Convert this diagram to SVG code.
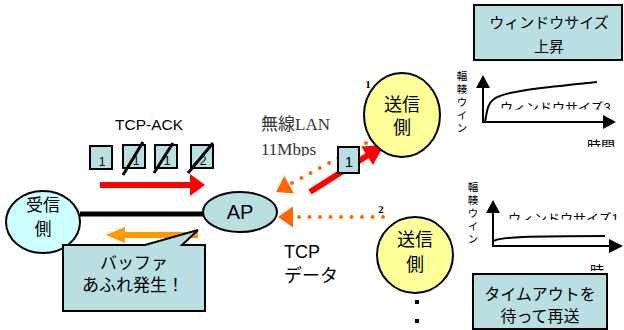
<svg xmlns="http://www.w3.org/2000/svg" width="624" height="330" viewBox="0 0 624 330">
<style>
.jp{font-family:'Liberation Sans','Noto Sans CJK JP',sans-serif;fill:#000}
.sf{font-family:'Liberation Serif','Noto Sans CJK JP',serif;fill:#333}
.box{fill:#b9dfe3;stroke:#000;stroke-width:2}
.pk{fill:#b9dfe3;stroke:#000;stroke-width:2}
.slash{stroke:#000;stroke-width:3}
.axis{stroke:#000;stroke-width:2;fill:none}
.dot{stroke:#ff6600;stroke-width:4;stroke-linecap:round;stroke-dasharray:0 10.5;fill:none}
.red{stroke:#ff0000;stroke-width:6;fill:none}
</style>
<defs>
<clipPath id="c1"><rect x="440" y="60" width="184" height="49.5"/></clipPath>
<clipPath id="c2"><rect x="440" y="130" width="184" height="17"/></clipPath>
<clipPath id="c3"><rect x="440" y="190" width="184" height="30"/></clipPath>
<clipPath id="c4"><rect x="580" y="250" width="25" height="21"/></clipPath>
<clipPath id="c5"><rect x="250" y="135" width="90" height="21"/></clipPath>
</defs>
<rect width="624" height="330" fill="#fff"/>

<g id="connectors">
  <line x1="80" y1="214" x2="205" y2="214" stroke="#000" stroke-width="5"/>
  <line class="red" x1="100" y1="185" x2="191" y2="185"/>
  <polygon points="190,174 205,185 190,196" fill="#ff0000"/>
  <line class="red" x1="310" y1="192" x2="369" y2="154.5"/>
  <polygon points="384,145 373,165 361.2,146.4" fill="#ff0000"/>
  <line class="dot" x1="366" y1="143" x2="292" y2="183"/>
  <polygon points="276,192 294,193.6 284.4,176" fill="#ff6600"/>
  <line class="dot" x1="383" y1="217" x2="295" y2="217"/>
  <polygon points="293,206.5 278,217 293,227.5" fill="#ff6600"/>
  <line x1="124" y1="235" x2="198" y2="235" stroke="#ff9900" stroke-width="6"/>
  <polygon points="125,227 106,235 125,243" fill="#ff9900"/>
</g>

<g id="receiver">
  <ellipse cx="43" cy="222" rx="37" ry="31" fill="#ccffff" stroke="#000" stroke-width="2"/>
  <text class="jp" x="43" y="211" font-size="17" text-anchor="middle">受信</text>
  <text class="jp" x="43" y="235" font-size="17" text-anchor="middle">側</text>
</g>

<g id="ap">
  <ellipse cx="240" cy="212" rx="37" ry="20" fill="#b9dfe3" stroke="#000" stroke-width="2"/>
  <text class="jp" x="240" y="219" font-size="20" text-anchor="middle">AP</text>
</g>

<g id="tcp-ack">
  <text class="jp" x="149" y="130" font-size="15.5" text-anchor="middle">TCP-ACK</text>
  <rect class="pk" x="90" y="146" width="22" height="23"/>
  <text class="jp" x="102" y="166" font-size="12" text-anchor="middle">1</text>
  <rect class="pk" x="123" y="145" width="22" height="23"/>
  <text class="jp" x="136" y="165" font-size="12" text-anchor="middle">1</text>
  <rect class="pk" x="155" y="145" width="22" height="23"/>
  <text class="jp" x="167" y="165" font-size="12" text-anchor="middle">1</text>
  <rect class="pk" x="191" y="145" width="22" height="23"/>
  <text class="jp" x="203" y="165" font-size="12" text-anchor="middle">2</text>
  <line class="slash" x1="123" y1="175" x2="143" y2="142"/>
  <line class="slash" x1="154" y1="173" x2="173" y2="143"/>
  <line class="slash" x1="188" y1="173" x2="213" y2="143"/>
</g>

<g id="balloon">
  <path d="M63,245 H145 L198,230 L182,245 H205 V311 H63 Z" fill="#b9dfe3" stroke="#000" stroke-width="2"/>
  <text class="jp" x="134" y="269" font-size="17" text-anchor="middle">バッファ</text>
  <text class="jp" x="133" y="291" font-size="17" text-anchor="middle">あふれ発生！</text>
</g>

<g id="wlan-label">
  <text class="sf" x="261" y="130" font-size="17">無線LAN</text>
  <text class="sf" x="261" y="155" font-size="17" clip-path="url(#c5)">11Mbps</text>
</g>

<g id="packet-1">
  <rect class="pk" x="338" y="147" width="21" height="26"/>
  <text class="jp" x="349" y="167" font-size="15" text-anchor="middle">1</text>
</g>

<g id="tcp-data-label">
  <text class="jp" x="284" y="258" font-size="18">TCP</text>
  <text class="jp" x="284" y="282" font-size="18">データ</text>
</g>

<g id="sender-1">
  <ellipse cx="402" cy="115" rx="38" ry="42" fill="#ffff99" stroke="#000" stroke-width="2"/>
  <text class="jp" x="402" y="111" font-size="18" text-anchor="middle">送信</text>
  <text class="jp" x="402" y="134" font-size="18" text-anchor="middle">側</text>
  <text x="368" y="88" font-family="'Liberation Serif',serif" font-weight="bold" font-size="11" text-anchor="middle">1</text>
</g>

<g id="sender-2">
  <ellipse cx="415" cy="255" rx="38" ry="38" fill="#ffff99" stroke="#000" stroke-width="2"/>
  <text class="jp" x="415" y="246" font-size="18" text-anchor="middle">送信</text>
  <text class="jp" x="415" y="271" font-size="18" text-anchor="middle">側</text>
  <text x="381" y="213" font-family="'Liberation Serif',serif" font-weight="bold" font-size="11" text-anchor="middle">2</text>
  <rect x="415" y="300" width="4" height="4" fill="#000"/>
  <rect x="415" y="319" width="4" height="4" fill="#000"/>
</g>

<g id="window-up-box">
  <rect class="box" x="474" y="5" width="148" height="55"/>
  <text class="jp" x="549" y="28" font-size="15" text-anchor="middle">ウィンドウサイズ</text>
  <text class="jp" x="549" y="52" font-size="15" text-anchor="middle">上昇</text>
</g>

<g id="graph-1">
  <line class="axis" x1="483" y1="123" x2="483" y2="86"/>
  <polygon points="476,88 483,75 490,88" fill="#000"/>
  <line class="axis" x1="483" y1="122" x2="604" y2="122"/>
  <polygon points="603,115 616,122 603,129" fill="#000"/>
  <path class="axis" d="M485,122 C487,112 487,104 494,99 C505,91 540,88 597,82"/>
  <text class="jp" x="500" y="112" font-size="13" clip-path="url(#c1)">ウィンドウサイズ3</text>
  <text class="jp" x="587" y="151" font-size="14" clip-path="url(#c2)">時間</text>
  <text class="jp" font-size="10.5" text-anchor="middle"><tspan x="462" y="80">輻</tspan><tspan x="462" y="93">輳</tspan><tspan x="462" y="106">ウ</tspan><tspan x="462" y="119">イ</tspan><tspan x="462" y="132">ン</tspan></text>
</g>

<g id="graph-2">
  <line class="axis" x1="493" y1="247" x2="493" y2="211"/>
  <polygon points="486,213 493,200 500,213" fill="#000"/>
  <line class="axis" x1="493" y1="246" x2="610" y2="246"/>
  <polygon points="609,239 623,246 609,253" fill="#000"/>
  <path class="axis" d="M494,241 C500,237 530,236 605,236"/>
  <text class="jp" x="508" y="223" font-size="13" clip-path="url(#c3)">ウィンドウサイズ1</text>
  <text class="jp" x="590" y="276" font-size="14" clip-path="url(#c4)">時間</text>
  <text class="jp" font-size="10.5" text-anchor="middle"><tspan x="473" y="191">輻</tspan><tspan x="473" y="204">輳</tspan><tspan x="473" y="217">ウ</tspan><tspan x="473" y="230">イ</tspan><tspan x="473" y="243">ン</tspan></text>
</g>

<g id="timeout-box">
  <rect class="box" x="473" y="274" width="134" height="55"/>
  <text class="jp" x="540" y="300" font-size="16" text-anchor="middle">タイムアウトを</text>
  <text class="jp" x="540" y="322" font-size="16" text-anchor="middle">待って再送</text>
</g>
</svg>
